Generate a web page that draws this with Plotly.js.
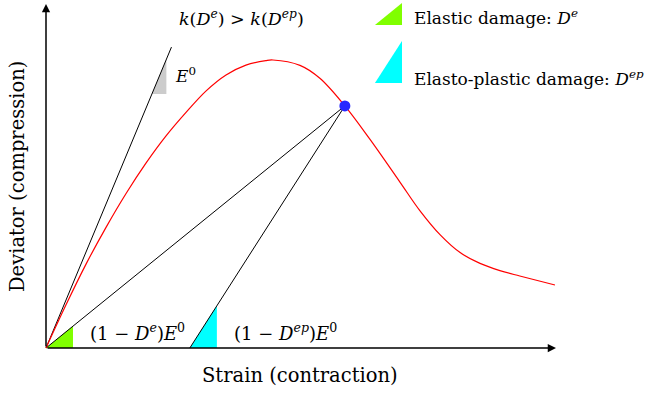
<!DOCTYPE html>
<html>
<head>
<meta charset="utf-8">
<script src="https://cdn.plot.ly/plotly-3.0.1.min.js"></script>
<style>
  html, body { margin: 0; padding: 0; background: #ffffff; }
  #chart { width: 646px; height: 393px; }
</style>
</head>
<body>
<div id="chart"></div>
<script>
// Stress-strain response (deviator vs. strain, compression), arbitrary units
const strain = [0, 0.39, 0.78, 1.18, 1.57, 1.96, 2.35, 2.75, 3.14, 3.53, 3.92, 4.31, 4.45,
                4.98, 5.37, 5.86, 6.35, 6.94, 7.33, 7.73, 8.12, 8.51, 8.90, 9.29, 9.98];
const deviator = [0, 1.43, 2.78, 4.03, 5.15, 6.16, 7.06, 7.86, 8.57, 9.10, 9.43, 9.58, 9.60,
                  9.42, 8.99, 8.07, 6.96, 5.53, 4.58, 3.77, 3.18, 2.82, 2.58, 2.40, 2.10];

// Current state on the softening branch
const stateIndex = 15;
const stateStrain = strain[stateIndex];
const stateDeviator = deviator[stateIndex];

// Initial elastic stiffness line E0
const e0Strain = [0, 2.46];
const e0Deviator = [0, 10.03];

// Residual strain after elasto-plastic unloading
const plasticStrain = 2.82;

// Slope triangles (base start, base end, base level)
const grayTri = { x0: 2.077, x1: 2.36, y0: 8.47 };
const greenTri = { x0: 0, x1: 0.53, y0: 0 };
const cyanTri = { x0: plasticStrain, x1: 3.35, y0: 0 };

// Legend glyphs
const legendGreen = { x: [6.45, 6.98, 6.98], y: [10.77, 10.77, 11.50] };
const legendCyan = { x: [6.45, 6.98, 6.98], y: [8.83, 8.83, 10.23] };

// Axis extents
const xAxisEnd = 10.0;
const yAxisEnd = 11.47;

const e0Slope = (e0Deviator[1] - e0Deviator[0]) / (e0Strain[1] - e0Strain[0]);
const secantSlope = stateDeviator / stateStrain;
const unloadSlope = stateDeviator / (stateStrain - plasticStrain);

function tri(t, slope, originX, color) {
  return {
    x: [t.x0, t.x1, t.x1, t.x0],
    y: [t.y0, t.y0, (t.x1 - originX) * slope, t.y0],
    mode: 'lines', fill: 'toself', fillcolor: color,
    line: { width: 0, color: color }, hoverinfo: 'skip'
  };
}

const traces = [
  tri(grayTri, e0Slope, 0, 'rgb(204,204,204)'),
  tri(greenTri, secantSlope, 0, 'rgb(128,255,0)'),
  tri(cyanTri, unloadSlope, plasticStrain, 'rgb(0,255,255)'),
  { x: legendGreen.x.concat([legendGreen.x[0]]), y: legendGreen.y.concat([legendGreen.y[0]]),
    mode: 'lines', fill: 'toself', fillcolor: 'rgb(128,255,0)', line: { width: 0 }, hoverinfo: 'skip' },
  { x: legendCyan.x.concat([legendCyan.x[0]]), y: legendCyan.y.concat([legendCyan.y[0]]),
    mode: 'lines', fill: 'toself', fillcolor: 'rgb(0,255,255)', line: { width: 0 }, hoverinfo: 'skip' },
  // E0 line
  { x: e0Strain, y: e0Deviator, mode: 'lines', line: { color: '#000', width: 1 } },
  // secant (elastic damage)
  { x: [0, stateStrain], y: [0, stateDeviator], mode: 'lines', line: { color: '#000', width: 1 } },
  // unloading (elasto-plastic damage)
  { x: [plasticStrain, stateStrain], y: [0, stateDeviator], mode: 'lines', line: { color: '#000', width: 1 } },
  // response curve
  { x: strain, y: deviator, mode: 'lines', line: { color: 'rgb(255,0,0)', width: 1.2, shape: 'spline', smoothing: 1 } },
  // current state
  { x: [stateStrain], y: [stateDeviator], mode: 'markers',
    marker: { color: 'rgb(40,40,255)', size: 11, line: { width: 0 } } }
];

const serif = 'DejaVu Serif';
function label(x, y, text, size, xanchor, extra) {
  return Object.assign({ x: x, y: y, xref: 'x', yref: 'y', text: text, showarrow: false,
    xanchor: xanchor, yanchor: 'middle', font: { family: serif, size: size, color: '#000' } }, extra || {});
}

const annotations = [
  // axes with arrow heads
  { x: xAxisEnd, y: 0, ax: 0, ay: 0, xref: 'x', yref: 'y', axref: 'x', ayref: 'y', text: '',
    showarrow: true, arrowhead: 2, arrowsize: 1.1, arrowwidth: 1.5, arrowcolor: '#000' },
  { x: 0, y: yAxisEnd, ax: 0, ay: 0, xref: 'x', yref: 'y', axref: 'x', ayref: 'y', text: '',
    showarrow: true, arrowhead: 2, arrowsize: 1.1, arrowwidth: 1.5, arrowcolor: '#000' },
  label(3.84, 11.0, '<i>k</i>(<i>D</i><sup><i>e</i></sup>) &gt; <i>k</i>(<i>D</i><sup><i>ep</i></sup>)', 17.5, 'center'),
  label(2.49, 9.1, '<i>E</i><sup>0</sup>', 17, 'left'),
  label(7.18, 11.03, 'Elastic damage: <i>D</i><sup><i>e</i></sup>', 17, 'left'),
  label(7.18, 9.0, 'Elasto-plastic damage: <i>D</i><sup><i>ep</i></sup>', 17, 'left'),
  label(0.82, 0.53, '(1 − <i>D</i><sup><i>e</i></sup>)<i>E</i><sup>0</sup>', 18, 'left'),
  label(3.65, 0.53, '(1 − <i>D</i><sup><i>ep</i></sup>)<i>E</i><sup>0</sup>', 18, 'left'),
  label(4.98, -0.93, 'Strain (contraction)', 19.5, 'center'),
  label(-0.57, 5.73, 'Deviator (compression)', 19.5, 'center', { textangle: -90 })
];

const layout = {
  width: 646, height: 393,
  margin: { l: 0, r: 0, t: 0, b: 0, pad: 0 },
  paper_bgcolor: '#fff', plot_bgcolor: '#fff',
  showlegend: false,
  xaxis: { range: [-46 / 51, 600 / 51], visible: false, fixedrange: true },
  yaxis: { range: [-1.5, 11.6], visible: false, fixedrange: true },
  annotations: annotations
};

Plotly.newPlot('chart', traces, layout, { staticPlot: true, displayModeBar: false });
</script>
</body>
</html>
